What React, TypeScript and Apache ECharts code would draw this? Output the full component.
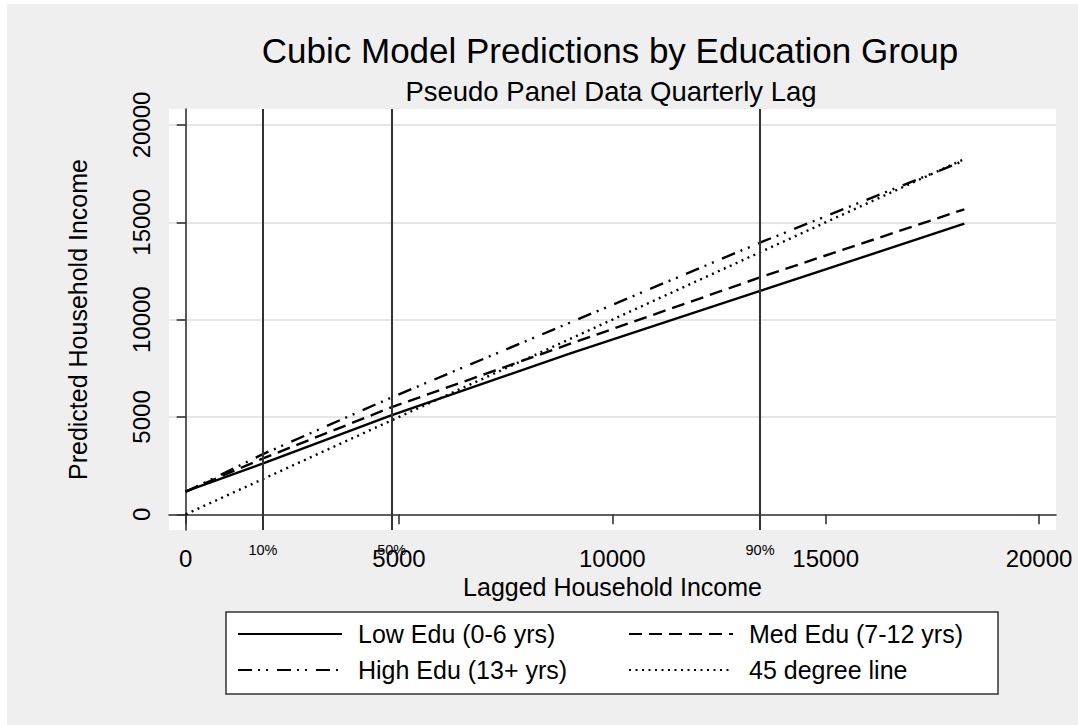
import React, { useEffect, useRef } from 'react';
import * as echarts from 'echarts';

// ---- data ----
const lagIncome = [0, 1800, 4800, 9000, 13500, 18250];
const lowEdu = [1180, 2600, 5070, 8250, 11500, 14930];
const medEdu = [1170, 2860, 5480, 8750, 12200, 15670];
const highEdu = [1150, 3080, 5980, 9840, 13990, 18170];
const degree45 = [0, 1800, 4800, 9000, 13500, 18250];
const seriesNames = ['Low Edu (0-6 yrs)', 'Med Edu (7-12 yrs)', 'High Edu (13+ yrs)', '45 degree line'];
const percentileValues = [1812, 4829, 13462];
const percentileLabels = ['10%', '50%', '90%'];
const xTicks = [0, 5000, 10000, 15000, 20000];
const yTicks = [0, 5000, 10000, 15000, 20000];
const titleText = 'Cubic Model Predictions by Education Group';
const subtitleText = 'Pseudo Panel Data Quarterly Lag';
const xTitle = 'Lagged Household Income';
const yTitle = 'Predicted Household Income';

const FONT = '"Liberation Sans", Arial, Helvetica, sans-serif';

export default function App() {
  const ref = useRef<HTMLDivElement>(null);

  useEffect(() => {
    if (!ref.current) return;
    const chart = echarts.init(ref.current, undefined, { renderer: 'svg' });
    const pair = (ys: number[]) => lagIncome.map((x, i) => [x, ys[i]]);
    const styles: any[] = ['solid', [13, 7], [14, 6, 2, 6, 2, 9], [2, 4.5]];
    const values = [lowEdu, medEdu, highEdu, degree45];

    const lineSeries = seriesNames.map((name, i) => ({
      type: 'line',
      name,
      data: pair(values[i]),
      symbol: 'none',
      showSymbol: false,
      z: 3,
      lineStyle: { color: '#000', width: 2.4, type: styles[i] },
      itemStyle: { color: '#000' },
    }));

    const legendCommon = {
      orient: 'vertical',
      padding: 0,
      itemWidth: 104,
      itemHeight: 26,
      itemGap: 10,
      selectedMode: false,
      itemStyle: { opacity: 0, borderWidth: 0, color: 'transparent' },
      textStyle: { fontSize: 25, lineHeight: 26, color: '#000', fontFamily: FONT, padding: [0, 0, 0, 11] },
    };

    const plain = (v: number) => String(v);

    chart.setOption({
      animation: false,
      backgroundColor: '#ffffff',
      textStyle: { fontFamily: FONT },
      graphic: [
        { type: 'rect', z: -10, silent: true, shape: { x: 7, y: 4, width: 1071, height: 721 }, style: { fill: '#efefef' } },
        { type: 'rect', z: 0, silent: true, shape: { x: 226, y: 612, width: 772, height: 82 }, style: { fill: '#fff', stroke: '#333', lineWidth: 1.5 } },
        { type: 'text', z: 5, x: 610, y: 50, style: { text: titleText, fontSize: 35, fontFamily: FONT, fill: '#000', align: 'center', verticalAlign: 'middle' } },
        { type: 'text', z: 5, x: 611, y: 91, style: { text: subtitleText, fontSize: 27.5, fontFamily: FONT, fill: '#000', align: 'center', verticalAlign: 'middle' } },
      ],
      grid: { left: 169, top: 109, width: 887, height: 421, show: true, backgroundColor: '#fff', borderWidth: 0, containLabel: false },
      legend: [
        { ...legendCommon, data: [seriesNames[0], seriesNames[2]], left: 237, top: 621, z: 5 },
        { ...legendCommon, data: [seriesNames[1], seriesNames[3]], left: 628, top: 621, z: 5 },
      ],
      xAxis: {
        type: 'value',
        min: -391,
        max: 20398,
        name: xTitle,
        nameLocation: 'middle',
        nameGap: 42,
        nameTextStyle: { fontSize: 25, color: '#000', fontFamily: FONT },
        axisLine: { show: true, lineStyle: { color: '#333', width: 1.6 } },
        axisTick: { show: true, length: 10, customValues: xTicks, lineStyle: { color: '#333', width: 1.6 } },
        axisLabel: { customValues: xTicks, formatter: plain, fontSize: 24, color: '#000', margin: 16, fontFamily: FONT },
        splitLine: { show: false },
      },
      yAxis: {
        type: 'value',
        min: -807,
        max: 20822,
        name: yTitle,
        nameLocation: 'middle',
        nameGap: 79,
        nameRotate: 90,
        nameTextStyle: { fontSize: 25, color: '#000', fontFamily: FONT },
        axisLine: { show: true, lineStyle: { color: '#333', width: 1.6 } },
        axisTick: { show: true, length: 9, customValues: yTicks, lineStyle: { color: '#333', width: 1.6 } },
        axisLabel: { customValues: yTicks, formatter: plain, rotate: 90, fontSize: 24, color: '#000', margin: 16, fontFamily: FONT },
        splitLine: { show: true, lineStyle: { color: '#e6e6e6', width: 2 } },
      },
      series: [
        {
          type: 'line',
          name: 'percentiles',
          data: [],
          z: 2,
          markLine: {
            silent: true,
            symbol: ['none', 'none'],
            lineStyle: { color: '#333', width: 2, type: 'solid' },
            label: { show: true, position: 'start', formatter: (p: any) => p.name, fontSize: 14.5, color: '#000', distance: 12, fontFamily: FONT },
            data: percentileValues.map((v, i) => ({ xAxis: v, name: percentileLabels[i] })),
          },
        },
        ...lineSeries,
      ],
    } as any);

    return () => chart.dispose();
  }, []);

  return (
    <div style={{ position: 'fixed', left: 0, top: 0, width: 1078, height: 725 }}>
      <div ref={ref} style={{ width: 1078, height: 725 }} />
    </div>
  );
}
